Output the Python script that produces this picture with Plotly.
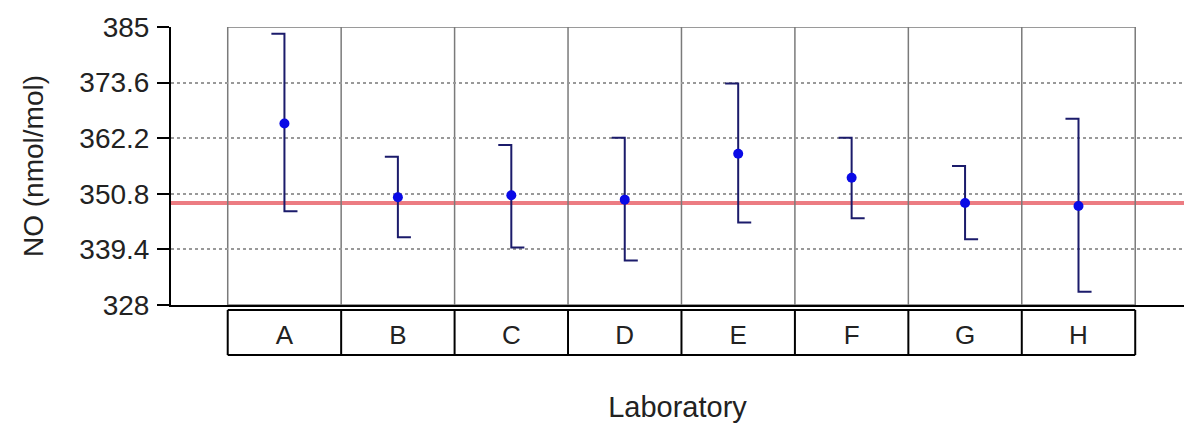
import plotly.graph_objects as go

labs = ['A', 'B', 'C', 'D', 'E', 'F', 'G', 'H']
values = [365.2, 350.1, 350.5, 349.6, 359.0, 354.1, 348.9, 348.3]
upper = [383.6, 358.4, 360.8, 362.3, 373.4, 362.3, 356.5, 366.2]
lower = [347.2, 341.9, 339.8, 337.1, 344.9, 345.8, 341.5, 330.7]
ref_value = 348.9
y_ticks = [328, 339.4, 350.8, 362.2, 373.6, 385]

font = dict(family='Liberation Sans, Arial, sans-serif', size=27, color='#222222')
cap = 0.115

# error bars: top cap points left, bottom cap points right
ex, ey = [], []
for i in range(len(labs)):
    ex += [i - cap, i, i, i + cap, None]
    ey += [upper[i], upper[i], lower[i], lower[i], None]

fig = go.Figure()
fig.add_trace(go.Scatter(x=ex, y=ey, mode='lines',
                         line=dict(color='#1b1b6b', width=2),
                         hoverinfo='skip', showlegend=False))
fig.add_trace(go.Scatter(x=list(range(len(labs))), y=values, mode='markers',
                         marker=dict(color='#0a0ae6', size=10),
                         showlegend=False))

# column box in the plot
n = len(labs)
fig.add_shape(type='rect', x0=-0.5, x1=n - 0.5, y0=y_ticks[0], y1=y_ticks[-1],
              line=dict(color='#7a7a7a', width=1.5), layer='below')
for i in range(1, n):
    fig.add_shape(type='line', x0=i - 0.5, x1=i - 0.5, y0=y_ticks[0], y1=y_ticks[-1],
                  line=dict(color='#7a7a7a', width=1.5), layer='below')

fig.add_hline(y=ref_value, line=dict(color='#ec7c82', width=4), layer='below')

# label table under the axis
for i in range(n + 1):
    fig.add_shape(type='line', xref='x', yref='paper', x0=i - 0.5, x1=i - 0.5,
                  y0=-0.018, y1=-0.18, line=dict(color='black', width=2))
for yy in [-0.018, -0.18]:
    fig.add_shape(type='line', xref='x', yref='paper', x0=-0.5, x1=n - 0.5,
                  y0=yy, y1=yy, line=dict(color='black', width=2))

fig.update_layout(
    width=1184, height=423,
    margin=dict(l=171, r=0, t=27, b=118),
    paper_bgcolor='white', plot_bgcolor='white',
    font=font,
    xaxis=dict(range=[-1.0, 7.93], tickmode='array', tickvals=list(range(n)),
               ticktext=labs, ticks='', showgrid=False, zeroline=False,
               showline=True, linecolor='black', linewidth=2,
               tickfont=dict(size=26), ticklabelstandoff=6,
               title=dict(text='Laboratory', standoff=47, font=dict(size=29))),
    yaxis=dict(range=[y_ticks[0], y_ticks[-1]], tickmode='array', tickvals=y_ticks,
               ticktext=[str(v) for v in y_ticks], ticks='outside', ticklen=12,
               tickcolor='black', tickwidth=1.5, showgrid=True, gridcolor='#999999',
               griddash='dot', gridwidth=1.5, zeroline=False,
               showline=True, linecolor='black', linewidth=2,
               tickfont=dict(size=28), ticklabelstandoff=2,
               title=dict(text='NO (nmol/mol)', standoff=28, font=dict(size=28))),
)

fig.write_html('out.html', config={'displayModeBar': False},
               post_script="document.body.style.margin='0px';")
